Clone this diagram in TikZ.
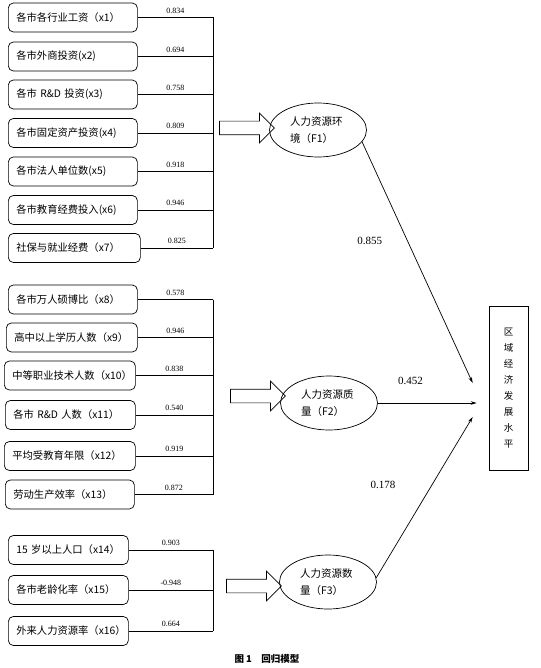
\documentclass[tikz,border=0pt]{standalone}
\usepackage{fontspec}
\setmainfont{Liberation Serif}
\newfontfamily\cjk{Noto Sans CJK SC}
\usetikzlibrary{arrows.meta,shapes.geometric,shapes.arrows,positioning}

\begin{document}
\begin{tikzpicture}[x=1pt,y=-1pt,line width=0.7pt,>={Stealth[length=6pt,width=3.5pt]},
  every node/.style={font=\small},
  var/.style={draw,rounded corners=5pt,anchor=west,minimum height=29pt,
    inner xsep=8pt,text width=#1,align=left,font=\cjk\fontsize{10.3}{11}\selectfont},
  var/.default=113pt,
  lbl/.style={midway,above=4pt,inner sep=0pt,font=\fontsize{8}{9}\selectfont},
  fac/.style={draw,ellipse,minimum width=97pt,minimum height=54pt,inner sep=0pt,
    text width=56pt,align=left,font=\cjk\fontsize{10.5}{17}\selectfont},
  blk/.style={draw,single arrow,minimum height=55pt,inner xsep=0pt,inner ysep=6.5pt,
    single arrow head extend=8pt},
  coef/.style={inner sep=0pt,font=\fontsize{11}{12}\selectfont}]
  \useasboundingbox (0,0) rectangle (540,668);

  % indicators
  \node[var] (x1) at (8,17.5) {各市各行业工资（x1）};
  \node[var] (x2) at (8,56.5) {各市外商投资(x2)};
  \node[var] (x3) at (8,94.5) {各市 R\&D 投资(x3)};
  \node[var] (x4) at (8,133) {各市固定资产投资(x4)};
  \node[var] (x5) at (8,171.5) {各市法人单位数(x5)};
  \node[var] (x6) at (8,210) {各市教育经费投入(x6)};
  \node[var=116pt] (x7) at (8,248) {社保与就业经费（x7）};

  \node[var] (x8) at (8,299.5) {各市万人硕博比（x8）};
  \node[var=115pt] (x9) at (6,337.5) {高中以上学历人数（x9）};
  \node[var=115pt] (x10) at (4,375.5) {中等职业技术人数（x10）};
  \node[var=114pt] (x11) at (5,415) {各市 R\&D 人数（x11）};
  \node[var=115pt] (x12) at (4,456) {平均受教育年限（x12）};
  \node[var] (x13) at (5,494.5) {劳动生产效率（x13）};

  \node[var=104pt] (x14) at (8,550) {15 岁以上人口（x14）};
  \node[var=104pt] (x15) at (8,590) {各市老龄化率（x15）};
  \node[var=104pt] (x16) at (8,631) {外来人力资源率（x16）};

  % factors and outcome
  \node[fac] (F1) at (318,130) {人力资源环\\境（F1）};
  \node[fac] (F2) at (329,403) {人力资源质\\量（F2）};
  \node[fac] (F3) at (328,582) {人力资源数\\量（F3）};
  \node[draw,minimum width=39pt,minimum height=164pt,align=center,
    font=\cjk\fontsize{9.5}{16}\selectfont] (out) at (508.5,388)
    {区\\域\\经\\济\\发\\展\\水\\平};

  \node[blk] (a1) at (243.5,128) {};
  \node[blk] (a2) at (254.5,396) {};
  \node[blk] (a3) at (250.5,586) {};

  \coordinate (bus) at (213,0);
  \coordinate (t1) at ([xshift=-16pt,yshift=5pt]out.west);
  \coordinate (t2) at ([xshift=-12pt]out.west);
  \coordinate (t3) at ([xshift=-16pt,yshift=-29pt]out.west);

  % loadings
  \draw (bus |- x1.east) -- (bus |- x7.east);
  \draw (x1.east) -- (bus |- x1.east) node[lbl] {0.834};
  \draw (x2.east) -- (bus |- x2.east) node[lbl] {0.694};
  \draw (x3.east) -- (bus |- x3.east) node[lbl] {0.758};
  \draw (x4.east) -- (bus |- x4.east) node[lbl] {0.809};
  \draw (x5.east) -- (bus |- x5.east) node[lbl] {0.918};
  \draw (x6.east) -- (bus |- x6.east) node[lbl] {0.946};
  \draw (x7.east) -- (bus |- x7.east) node[lbl] {0.825};

  \draw (bus |- x8.east) -- (bus |- x13.east);
  \draw (x8.east) -- (bus |- x8.east) node[lbl] {0.578};
  \draw (x9.east) -- (bus |- x9.east) node[lbl] {0.946};
  \draw (x10.east) -- (bus |- x10.east) node[lbl] {0.838};
  \draw (x11.east) -- (bus |- x11.east) node[lbl] {0.540};
  \draw (x12.east) -- (bus |- x12.east) node[lbl] {0.919};
  \draw (x13.east) -- (bus |- x13.east) node[lbl] {0.872};

  \draw (bus |- x14.east) -- (bus |- x16.east);
  \draw (x14.east) -- (bus |- x14.east) node[lbl] {0.903};
  \draw (x15.east) -- (bus |- x15.east) node[lbl] {-0.948};
  \draw (x16.east) -- (bus |- x16.east) node[lbl] {0.664};

  % regression paths
  \draw[->] (F1.-15) -- (t1) node[coef,pos=0.41,left=25pt] {0.855};
  \draw[->] (F2.east) -- (F2.east -| t2) node[coef,pos=0.33,above=18pt] {0.452};
  \draw[->] (F3.5) -- (t3) node[coef,pos=0.575,left=36pt] {0.178};

  \node[font=\cjk\bfseries\fontsize{9.5}{11}\selectfont] (cap) at (267,659)
    {图 1\quad 回归模型};
\end{tikzpicture}
\end{document}
